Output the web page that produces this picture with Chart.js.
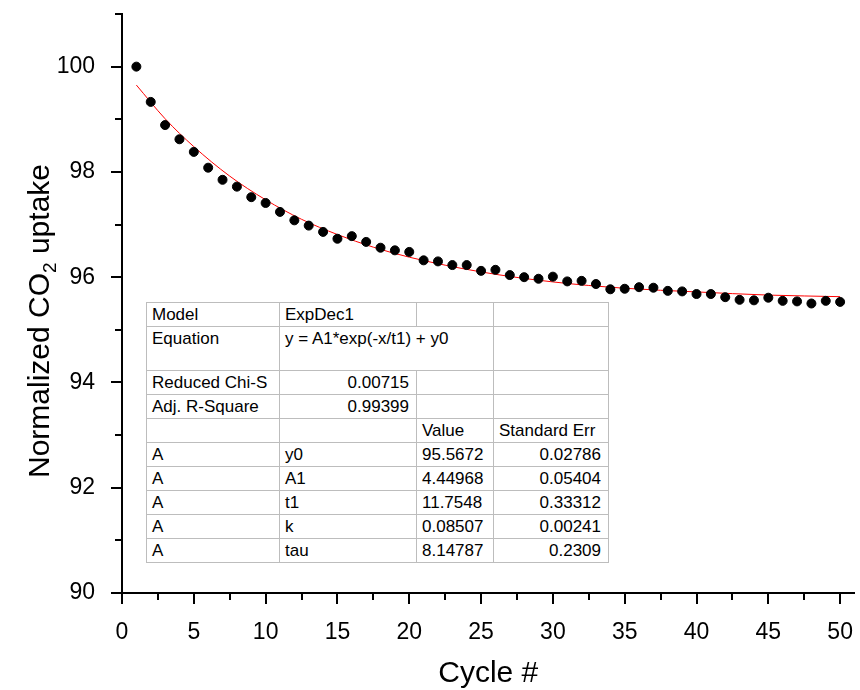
<!DOCTYPE html>
<html>
<head>
<meta charset="utf-8">
<script src="https://cdn.jsdelivr.net/npm/chart.js@4"></script>
<style>
  body { margin: 0; background: #fff; }
  #wrap { position: relative; width: 860px; height: 690px; }
  #fitTable {
    position: absolute; left: 146px; top: 302px;
    border-collapse: collapse; border: 1px solid #333;
    font-family: "Liberation Sans", Arial, sans-serif; font-size: 17px; color: #000;
    background: #fff;
  }
  #fitTable td {
    border: 1px solid #bdbdbd; padding: 1px 6px 0 5px; height: 22px;
    vertical-align: top; white-space: nowrap; line-height: 21px; overflow: hidden;
  }
  #fitTable td.num { text-align: right; padding-right: 7px; }
  #fitTable tr.tall td { height: 42px; }
</style>
</head>
<body>
<div id="wrap">
  <canvas id="chart" width="860" height="690"></canvas>
  <table id="fitTable"></table>
</div>
<script>
// measured points
const cycles = [1, 2, 3, 4, 5, 6, 7, 8, 9, 10, 11, 12, 13, 14, 15, 16, 17, 18, 19, 20,
  21, 22, 23, 24, 25, 26, 27, 28, 29, 30, 31, 32, 33, 34, 35, 36, 37, 38, 39, 40,
  41, 42, 43, 44, 45, 46, 47, 48, 49, 50];
const uptake = [100.0, 99.33, 98.89, 98.62, 98.38, 98.08, 97.85, 97.72, 97.52, 97.41,
  97.24, 97.08, 96.98, 96.86, 96.73, 96.78, 96.67, 96.56, 96.51, 96.48,
  96.32, 96.30, 96.23, 96.23, 96.12, 96.14, 96.04, 96.00, 95.97, 96.01,
  95.92, 95.93, 95.87, 95.77, 95.78, 95.81, 95.80, 95.74, 95.73, 95.68,
  95.68, 95.62, 95.57, 95.56, 95.61, 95.55, 95.54, 95.50, 95.55, 95.53];

// fitted curve
const fitX = [1, 3, 5, 7.5, 10, 12.5, 15, 17.5, 20, 25, 30, 35, 40, 45, 50];
const fitY = [99.65, 99.01, 98.48, 97.92, 97.47, 97.10, 96.81, 96.57, 96.38, 96.10,
  95.91, 95.79, 95.72, 95.66, 95.63];

// fit report table
const tableRows = [
  ['Model', 'ExpDec1', '', ''],
  ['Equation', 'y = A1*exp(-x/t1) + y0', '', ''],
  ['Reduced Chi-S', '0.00715', '', ''],
  ['Adj. R-Square', '0.99399', '', ''],
  ['', '', 'Value', 'Standard Err'],
  ['A', 'y0', '95.5672', '0.02786'],
  ['A', 'A1', '4.44968', '0.05404'],
  ['A', 't1', '11.7548', '0.33312'],
  ['A', 'k', '0.08507', '0.00241'],
  ['A', 'tau', '8.14787', '0.2309']
];

const xTicks = [0, 5, 10, 15, 20, 25, 30, 35, 40, 45, 50];
const yTicks = [90, 92, 94, 96, 98, 100];

const FONT = '"Liberation Sans", Arial, sans-serif';

// build the table
const colW = [133, 136, 77, 114];
const tbl = document.getElementById('fitTable');
tableRows.forEach((row, i) => {
    const tr = document.createElement('tr');
    if (i === 1) tr.className = 'tall';
    row.forEach((txt, j) => {
        const td = document.createElement('td');
        td.textContent = txt;
        td.style.width = (colW[j] - 12) + 'px';
        td.style.maxWidth = (colW[j] - 12) + 'px';
        if (i === 1 && j === 1) {
            td.colSpan = 2;
            td.style.maxWidth = 'none';
        }
        const isNum = /^[0-9.]+$/.test(txt);
        if (isNum && (j === 1 || j === 3)) td.className = 'num';
        tr.appendChild(td);
        if (i === 1 && j === 1) row.splice(2, 1);
    });
    tbl.appendChild(tr);
});

// ticks (major + minor) and axis titles
const axisDecor = {
    id: 'axisDecor',
    afterDraw(chart) {
        const c = chart.ctx;
        const xs = chart.scales.x, ys = chart.scales.y;
        const area = chart.chartArea;
        c.save();
        c.strokeStyle = '#000';
        c.lineWidth = 2;
        for (let v = 90; v <= 101; v++) {
            const py = Math.round(ys.getPixelForValue(v));
            const len = yTicks.includes(v) ? 11 : 7;
            c.beginPath();
            c.moveTo(area.left - len, py);
            c.lineTo(area.left, py);
            c.stroke();
        }
        for (let v = 0; v <= 50; v += 2.5) {
            const px = Math.round(xs.getPixelForValue(v));
            const len = xTicks.includes(v) ? 11 : 7;
            c.beginPath();
            c.moveTo(px, area.bottom);
            c.lineTo(px, area.bottom + len);
            c.stroke();
        }

        c.fillStyle = '#000';
        c.font = '30px ' + FONT;
        c.textAlign = 'center';
        c.textBaseline = 'alphabetic';
        c.fillText('Cycle #', (area.left + area.right) / 2, 682);

        // y title with subscript
        const p1 = 'Normalized CO', p2 = '2', p3 = ' uptake';
        c.font = '30px ' + FONT;
        const w1 = c.measureText(p1).width, w3 = c.measureText(p3).width;
        c.font = '19px ' + FONT;
        const w2 = c.measureText(p2).width;
        const total = w1 + w2 + w3;
        c.translate(38, 321);
        c.rotate(-Math.PI / 2);
        c.textAlign = 'left';
        let x0 = -total / 2;
        c.font = '30px ' + FONT;
        c.fillText(p1, x0, 11);
        c.font = '19px ' + FONT;
        c.fillText(p2, x0 + w1, 18);
        c.font = '30px ' + FONT;
        c.fillText(p3, x0 + w1 + w2, 11);
        c.restore();
    }
};

new Chart(document.getElementById('chart'), {
    type: 'scatter',
    data: {
        datasets: [
            {
                label: 'Fit',
                data: fitX.map((x, i) => ({ x: x, y: fitY[i] })),
                showLine: true,
                borderColor: '#ff0000',
                borderWidth: 1,
                pointRadius: 0,
                cubicInterpolationMode: 'monotone',
                order: 2
            },
            {
                label: 'Uptake',
                data: cycles.map((x, i) => ({ x: x, y: uptake[i] })),
                backgroundColor: '#000',
                borderColor: '#000',
                pointRadius: 4.5,
                pointHoverRadius: 4.5,
                order: 1
            }
        ]
    },
    options: {
        responsive: false,
        animation: false,
        events: [],
        layout: { padding: { top: 14, right: 1.5, left: 0, bottom: 0 } },
        plugins: {
            legend: { display: false },
            tooltip: { enabled: false }
        },
        scales: {
            x: {
                type: 'linear',
                min: 0,
                max: 51,
                grid: { display: false },
                border: { display: true, color: '#000', width: 2 },
                ticks: {
                    stepSize: 5,
                    includeBounds: false,
                    autoSkip: false,
                    maxRotation: 0,
                    padding: 18,
                    color: '#000',
                    font: { family: FONT, size: 23 },
                    callback: v => (xTicks.includes(v) ? v : '')
                },
                afterFit: s => {
                    s.height = 97;
                    s.paddingLeft = 0;
                    s.paddingRight = 0;
                }
            },
            y: {
                min: 90,
                max: 101,
                grid: { display: false },
                border: { display: true, color: '#000', width: 2 },
                ticks: {
                    stepSize: 1,
                    autoSkip: false,
                    padding: 19,
                    color: '#000',
                    font: { family: FONT, size: 23 },
                    callback: v => (yTicks.includes(v) ? v : '')
                },
                afterFit: s => {
                    s.width = 122;
                    s.paddingTop = 0;
                    s.paddingBottom = 0;
                }
            }
        }
    },
    plugins: [axisDecor]
});
</script>
</body>
</html>
